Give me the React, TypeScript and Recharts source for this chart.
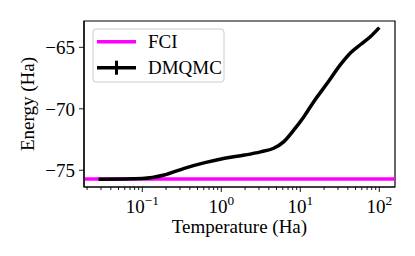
import { LineChart, Line, XAxis, YAxis, ReferenceLine, ReferenceArea } from 'recharts'

const temperatures = [0.028, 0.1, 0.19, 0.34, 0.62, 1.1, 1.97, 3.14, 4.6, 6.2, 8.3, 11.1, 14.8, 21.9, 32.4, 43.4, 58, 77.6, 100]
const dmqmcEnergies = [-75.72, -75.66, -75.38, -74.84, -74.38, -74.02, -73.76, -73.5, -73.21, -72.67, -71.72, -70.64, -69.42, -67.93, -66.39, -65.44, -64.77, -64.12, -63.4]
const fciEnergy = -75.71

const xTicks = [
  0.02, 0.03, 0.04, 0.05, 0.06, 0.07, 0.08, 0.09,
  0.1, 0.2, 0.3, 0.4, 0.5, 0.6, 0.7, 0.8, 0.9,
  1, 2, 3, 4, 5, 6, 7, 8, 9,
  10, 20, 30, 40, 50, 60, 70, 80, 90,
  100,
]
const yTicks = [-75, -70, -65]
const xDomain = [0.0183, 158]
const yDomain = [-76.36, -62.86]

const data = temperatures.map((t, i) => ({ t, e: dmqmcEnergies[i] }))

const FONT = "'Liberation Serif', 'DejaVu Serif', serif"
const FS = 19
const textStyle = { fontFamily: FONT, fontSize: FS }

function isMajor(v: number) {
  const l = Math.log10(v)
  return Math.abs(l - Math.round(l)) < 1e-9
}

function XTick(props: any) {
  const { x, y, payload } = props
  const v = payload.value
  const major = isMajor(v)
  const exp = Math.round(Math.log10(v))
  return (
    <g>
      <line x1={x} x2={x} y1={y} y2={y + (major ? 5 : 3)} stroke="#000" strokeWidth={0.9} />
      {major && (
        <text x={x} y={y + 26} textAnchor="middle" style={textStyle} fill="#000">
          <tspan>10</tspan>
          <tspan dy={-8} style={{ fontSize: FS * 0.7 }}>{exp < 0 ? '\u2212' + Math.abs(exp) : String(exp)}</tspan>
        </text>
      )}
    </g>
  )
}

function Legend() {
  return (
    <svg
      width={133}
      height={55}
      style={{ position: 'absolute', left: 92, top: 28 }}
    >
      <rect x={1} y={1} width={131} height={53} rx={3} fill="#fff" fillOpacity={0.8} stroke="#ccc" strokeWidth={1} />
      <line x1={5} x2={44} y1={13.7} y2={13.7} stroke="#ff00ff" strokeWidth={3.5} />
      <text x={56} y={20.2} style={textStyle} fill="#000">FCI</text>
      <line x1={5} x2={44} y1={39.7} y2={39.7} stroke="#000" strokeWidth={3.5} />
      <line x1={24.5} x2={24.5} y1={32.7} y2={46.7} stroke="#000" strokeWidth={3} />
      <text x={56} y={46.2} style={textStyle} fill="#000">DMQMC</text>
    </svg>
  )
}

export default function App() {
  return (
    <div style={{ position: 'absolute', left: 0, top: 0, width: 415, height: 256, background: '#fff' }}>
      <LineChart width={415} height={256} data={data} margin={{ top: 21, right: 20, bottom: 0, left: 0 }}>
        <XAxis
          dataKey="t"
          type="number"
          scale="log"
          domain={xDomain}
          allowDataOverflow
          ticks={xTicks}
          interval={0}
          tick={<XTick />}
          tickLine={false}
          tickSize={0}
          tickMargin={0}
          height={69}
          axisLine={{ stroke: '#000', strokeWidth: 1.2 }}
          label={{
            content: (p: any) => (
              <text
                x={p.viewBox.x + p.viewBox.width / 2}
                y={p.viewBox.y + 46}
                textAnchor="middle"
                style={textStyle}
                fill="#000"
              >
                Temperature (Ha)
              </text>
            ),
          }}
        />
        <YAxis
          type="number"
          domain={yDomain}
          allowDataOverflow
          ticks={yTicks}
          interval={0}
          width={84}
          tickSize={5}
          tickMargin={4}
          tickLine={{ stroke: '#000', strokeWidth: 0.9 }}
          axisLine={{ stroke: '#000', strokeWidth: 1.2 }}
          tick={{ fill: '#000', style: textStyle }}
          tickFormatter={(v: number) => (v < 0 ? '\u2212' + Math.abs(v) : String(v))}
          label={{
            content: (p: any) => {
              const cx = p.viewBox.x + 27
              const cy = p.viewBox.y + p.viewBox.height / 2
              return (
                <text
                  x={cx}
                  y={cy}
                  transform={`rotate(-90 ${cx} ${cy})`}
                  textAnchor="middle"
                  dominantBaseline="central"
                  style={textStyle}
                  fill="#000"
                >
                  Energy (Ha)
                </text>
              )
            },
          }}
        />
        <ReferenceLine y={fciEnergy} stroke="#ff00ff" strokeWidth={3.5} ifOverflow="hidden" />
        <Line
          type="monotone"
          dataKey="e"
          stroke="#000"
          strokeWidth={3.5}
          dot={false}
          isAnimationActive={false}
        />
        <ReferenceArea
          x1={xDomain[0]}
          x2={xDomain[1]}
          y1={yDomain[0]}
          y2={yDomain[1]}
          fill="none"
          stroke="#000"
          strokeWidth={1.2}
          ifOverflow="visible"
        />
      </LineChart>
      <Legend />
    </div>
  )
}
